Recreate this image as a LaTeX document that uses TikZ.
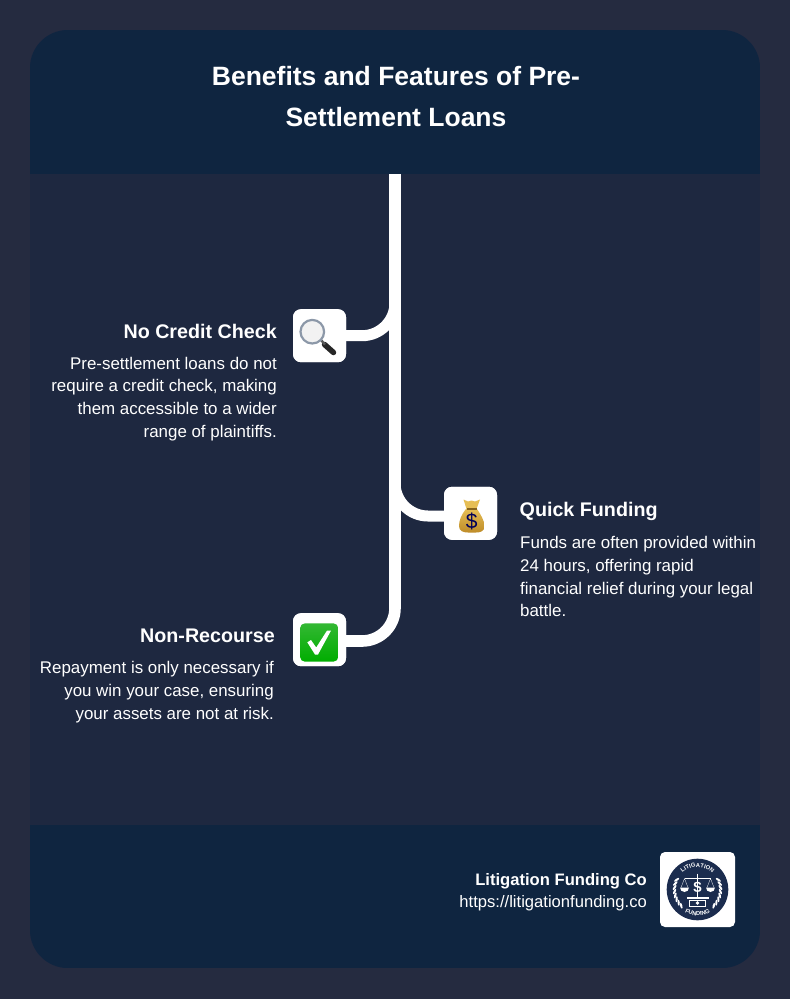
\documentclass[tikz,border=0pt]{standalone}
\usepackage{fontspec}
\setmainfont{Liberation Sans}
\usetikzlibrary{decorations.text}
\definecolor{pagebg}{HTML}{252B40}
\definecolor{bandbg}{HTML}{0F2540}
\definecolor{bodybg}{HTML}{1E2840}
\definecolor{sealblue}{HTML}{1B2C4E}
\definecolor{goldtop}{HTML}{E6BE55}
\definecolor{goldlow}{HTML}{BE8C28}
\definecolor{rimgray}{HTML}{8C98A8}
\tikzset{
  x=1pt,y=-1pt,
  conn/.style={draw=white,line width=11pt,rounded corners=33pt},
  spine/.style={draw=white,line width=11.6pt,rounded corners=33pt},
  iconbox/.style={fill=white,rounded corners=8pt,minimum width=53pt,minimum height=53pt,inner sep=0pt,draw=none},
  heading/.style={text=white,inner sep=0pt,font=\fontsize{19.7}{24}\selectfont\bfseries},
  bodytext/.style={text=white,inner sep=0pt,font=\fontsize{16.9}{22.7}\selectfont},
}
\begin{document}
\begin{tikzpicture}
\useasboundingbox (0,0) rectangle (790,999);
\fill[pagebg] (0,0) rectangle (790,999);
\begin{scope}
  \clip[rounded corners=38pt] (30,30) rectangle (760,968);
  \fill[bodybg] (30,30) rectangle (760,968);
  \fill[bandbg] (30,30) rectangle (760,174);
  \fill[bandbg] (30,825) rectangle (760,968);
\end{scope}
\node[text=white,inner sep=0pt,align=center,font=\fontsize{26.5}{41}\selectfont\bfseries,anchor=base] (title) at (396,126) {Benefits and Features of Pre-\\Settlement Loans};

\coordinate (top) at (395,174);
\coordinate (spineA) at (395,296);
\coordinate (spineB) at (395,483);
\node[iconbox] (icon1) at (319.5,335.7) {};
\node[iconbox] (icon2) at (470.5,513.3) {};
\node[iconbox] (icon3) at (319.5,639.7) {};
\draw[spine] (top) |- ([yshift=-1.3pt]icon3.east);
\draw[conn] (icon1.east) -| (spineA);
\draw[conn] ([yshift=-2.7pt]icon2.west) -| (spineB);
\node[iconbox] at (icon1) {};
\node[iconbox] at (icon2) {};
\node[iconbox] at (icon3) {};

% magnifier
\draw[line width=5.5pt,line cap=round,draw=black!85] (324.5,344.5) -- (333.5,352.5);
\draw[line width=2.4pt,draw=gray!70!black] (321,340) -- (325,344.5);
\fill[draw=rimgray,line width=2.2pt,fill=gray!10] (312.3,331.7) circle[radius=11.8];
% money bag
\shade[top color=goldtop,bottom color=goldlow] (466,509) .. controls (461,515) and (459,521) .. (459,526) .. controls (459,531) and (463,532.5) .. (468,532.5) -- (476,532.5) .. controls (481,532.5) and (484.5,531) .. (484.5,526) .. controls (484.5,521) and (481,515) .. (477,509) -- cycle;
\fill[goldtop] (463.5,499.5) -- (468,501.5) -- (471.5,500.5) -- (475,501.5) -- (480,499.5) -- (476.5,509) -- (466.5,509) -- cycle;
\fill[goldlow!70!black] (466.5,507.6) rectangle (476.7,509.6);
\node[inner sep=0pt,text=black!65!blue,font=\fontsize{21}{21}\selectfont] (dollar) at (471.7,521.5) {\$};
% check mark
\shade[top color=green!65!black!80!white,bottom color=green!68!black,rounded corners=5pt] (300,623.3) rectangle (338.3,661.7);
\fill[white] (307.3,642.3) -- (311,640) -- (316.2,647.5) -- (327,630.6) -- (331,630.6) -- (318,654.5) -- (315,654.5) -- cycle;

% texts
\node[heading,anchor=base east] (h1) at (277,338.3) {No Credit Check};
\node[bodytext,align=right,anchor=base east] (b1) at (277,437.3) {Pre-settlement loans do not\\require a credit check, making\\them accessible to a wider\\range of plaintiffs.};
\node[heading,anchor=base west] (h2) at (519.5,516) {Quick Funding};
\node[bodytext,align=left,anchor=base west] (b2) at (520,616.7) {Funds are often provided within\\24 hours, offering rapid\\financial relief during your legal\\battle.};
\node[heading,anchor=base east] (h3) at (275,642) {Non-Recourse};
\node[bodytext,align=right,anchor=base east] (b3) at (274,719) {Repayment is only necessary if\\you win your case, ensuring\\your assets are not at risk.};

% footer
\node[text=white,inner sep=0pt,anchor=base east,font=\fontsize{16.6}{20}\selectfont\bfseries] (brand) at (647,885) {Litigation Funding Co};
\node[text=white,inner sep=0pt,anchor=base east,font=\fontsize{16.6}{18}\selectfont] (url) at (647,907) {https://litigationfunding.co};
\fill[white,rounded corners=5pt] (660,852) rectangle (735,927);
\begin{scope}[shift={(697.5,889.5)},y=1pt]
  \fill[sealblue] (0,0) circle[radius=30.8];
  \path[decorate,decoration={text along path,text align=center,text color=white,text={|\fontsize{5.8}{6}\selectfont\bfseries|LITIGATION}}] (155:22.3) arc[start angle=155,end angle=25,radius=22.3];
  \path[decorate,decoration={text along path,text align=center,text color=white,text={|\fontsize{5.8}{6}\selectfont\bfseries|FUNDING}}] (-150:26) arc[start angle=-150,end angle=-30,radius=26];
  \foreach \a in {155,165,...,225}{
    \fill[white,rotate around={\a+60:(\a:23)}] (\a:23) ellipse[x radius=3,y radius=1.1];
    \fill[white,rotate around={-\a-60+180:({180-\a}:23)}] ({180-\a}:23) ellipse[x radius=3,y radius=1.1];
  }
  \draw[white,line width=.9pt] (0,16) -- (0,-8);
  \draw[white,line width=.9pt] (-13,11) -- (13,11);
  \draw[white,line width=.3pt] (-13,11) -- (-16.5,2) (-13,11) -- (-9.5,2) (13,11) -- (16.5,2) (13,11) -- (9.5,2);
  \fill[white] (-17.5,2) arc[start angle=180,end angle=360,radius=4.5] -- cycle;
  \fill[white] (8.5,2) arc[start angle=180,end angle=360,radius=4.5] -- cycle;
  \node[inner sep=0pt,text=white,font=\fontsize{15}{15}\selectfont\bfseries] (sealdollar) at (0,2) {\$};
  \fill[white] (-11,-7) rectangle (11,-9);
  \draw[white,line width=.8pt] (-8,-10.5) rectangle (8,-16.5);
  \fill[white] (0,-13.5) circle[radius=1.8];
\end{scope}
\end{tikzpicture}
\end{document}
